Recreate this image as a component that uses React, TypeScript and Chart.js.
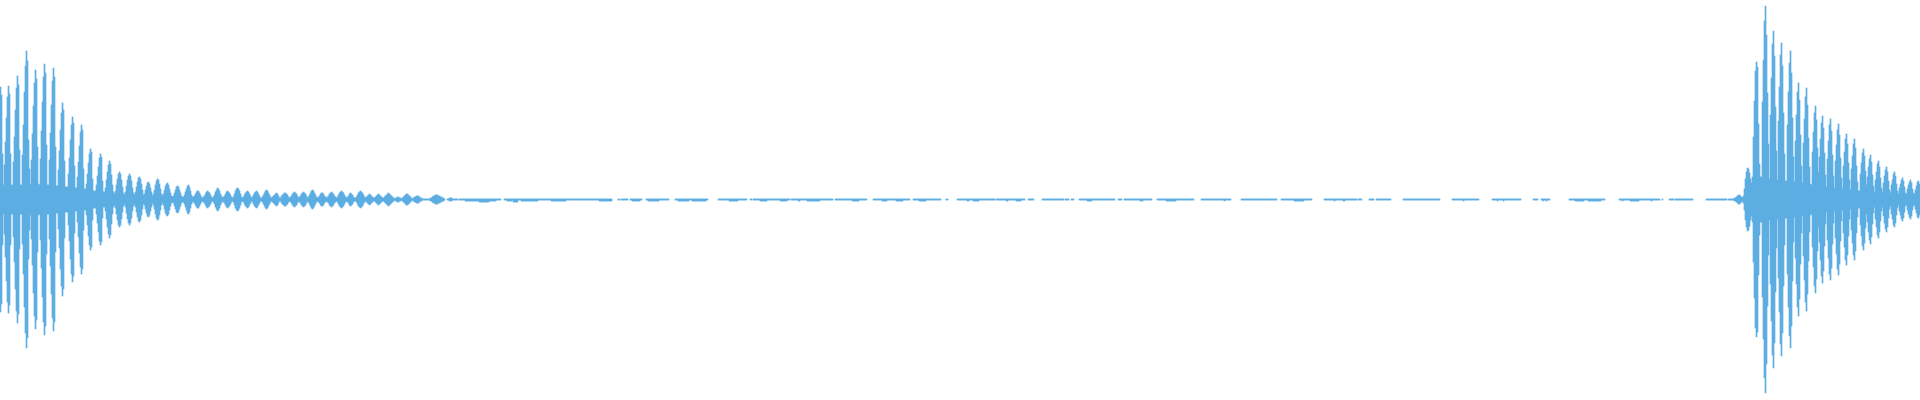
import React, { useEffect, useRef } from "react";
import { Chart, registerables } from "chart.js";

Chart.register(...registerables);

// Waveform sampled per pixel column; amplitudes in pixels above/below the centre line.
const columnCount = 1920;

// First hit (columns 0..459), decaying beats
const decayAmplitude: (number | null)[] = [
  112, 104, 45, 14, 34,
  57, 81, 102, 113, 105, 45, 14, 14,
  37, 62, 89, 111, 123, 114, 49, 14, 14,
  44, 74, 107, 133, 148, 138, 59, 30, 15,
  39, 65, 93, 116, 129, 120, 52, 15, 14,
  40, 68, 97, 122, 135, 126, 54, 14, 14,
  39, 66, 94, 118, 131, 122, 52, 13, 13,
  29, 48, 69, 86, 96, 89, 38, 12, 12, 12,
  25, 41, 59, 74, 82, 76, 33, 11, 11,
  22, 37, 53, 67, 74, 69, 30, 10, 10,
  15, 25, 36, 45, 50, 47, 20, 8, 8, 8,
  14, 23, 32, 41, 45, 42, 18, 7, 7,
  11, 19, 27, 34, 38, 35, 24, 14, 7, 5,
  8, 14, 20, 25, 27, 25, 19, 12, 6, 4,
  7, 13, 19, 23, 25, 23, 18, 11, 6, 4,
  7, 12, 17, 21, 22, 20, 15, 9, 4,
  5, 9, 13, 16, 17, 15, 11, 7, 3,
  5, 9, 14, 18, 20, 19, 15, 10, 5, 3,
  5, 9, 13, 15, 16, 14, 10, 6, 3, 2,
  3, 6, 9, 12, 13, 12, 9, 6, 3, 2,
  2, 4, 7, 10, 13, 14, 12, 8, 4, 2,
  2, 3, 5, 7, 8, 8, 6, 4, 2, 1,
  2, 3, 5, 7, 8, 7, 6, 4, 2, 1,
  2, 4, 7, 9, 11, 10, 8, 5, 3, 1,
  2, 3, 5, 7, 8, 7, 6, 4, 2, 1,
  2, 5, 8, 10, 11, 10, 8, 5, 2, 1,
  2, 4, 6, 7, 8, 7, 5, 3, 1,
  2, 4, 6, 7, 8, 7, 5, 3, 1, 1,
  2, 4, 6, 8, 9, 8, 6, 4, 2, 1,
  2, 3, 4, 5, 6, 5, 3, 1,
  1, 3, 4, 5, 6, 6, 5, 4, 2, 1,
  2, 3, 5, 6, 7, 6, 5, 3, 1,
  2, 3, 5, 6, 7, 6, 5, 3, 1,
  2, 4, 6, 8, 9, 8, 6, 4, 2, 1,
  2, 3, 5, 6, 6, 5, 3, 2, 1,
  2, 3, 5, 6, 7, 6, 5, 3, 2, 1,
  2, 4, 6, 7, 8, 7, 6, 4, 2, 1,
  2, 3, 5, 6, 5, 4, 2, 1,
  1, 2, 4, 6, 7, 8, 7, 6, 4, 2, 1,
  2, 3, 4, 5, 4, 3, 2, 1,
  1, 2, 3, 4, 5, 4, 3, 2, 1,
  1, 2, 3, 4, 5, 6, 5, 4, 3, 2, 1,
  0, 1, 1, 2, 2, 1, 1, 0,
  1, 2, 3, 4, 5, 5, 4, 3, 2, 1, 0,
  1, 2, 2, 3, 3, 3, 2, 1, 1, 0,
  0, 0, 0, 0, 0, 0,
  0, 1, 1, 2, 3, 3, 4, 4, 4, 3, 3, 2, 2, 1, 1, 0,
  null, null,
  0, 0, 1, 1, 1, 0, 0, 0, 0, 0, 0,
  null,
  0,
];

// Quiet stretch: column ranges where a faint trace is visible
const quietDashes: [number, number][] = [
  [460, 500], [504, 611], [618, 619], [621, 627], [630, 641], [646, 668],
  [675, 707], [718, 746], [750, 751], [753, 789], [791, 832], [835, 866],
  [873, 909], [913, 940], [946, 947], [957, 994], [996, 1024], [1028, 1033],
  [1042, 1063], [1065, 1068], [1071, 1073], [1079, 1114], [1118, 1121],
  [1124, 1151], [1157, 1193], [1201, 1230], [1241, 1276], [1281, 1311],
  [1324, 1356], [1358, 1361], [1369, 1373], [1376, 1390], [1403, 1439],
  [1452, 1478], [1492, 1520], [1533, 1537], [1541, 1549], [1569, 1604],
  [1619, 1659], [1662, 1662], [1669, 1673], [1675, 1692], [1706, 1726],
  [1728, 1733],
];

// Slightly louder spots inside the quiet stretch (downward extent in px)
const quietBumps: [number, number, number][] = [
  [465, 469, 1], [470, 478, 1], [479, 488, 2], [489, 495, 1], [507, 511, 1],
  [513, 517, 2], [521, 537, 1], [551, 565, 1], [599, 611, 1], [632, 639, 1],
  [648, 658, 1], [678, 688, 1], [692, 705, 1], [729, 737, 1], [760, 766, 1],
  [780, 786, 1], [798, 799, 1], [807, 819, 1], [852, 858, 1], [882, 886, 1],
  [896, 902, 1], [919, 925, 1], [967, 968, 1], [973, 978, 1], [1006, 1007, 1],
  [1016, 1020, 1], [1087, 1091, 1], [1140, 1142, 1], [1166, 1175, 1],
  [1224, 1224, 1], [1294, 1303, 1], [1334, 1334, 1], [1343, 1344, 1],
  [1463, 1463, 1], [1497, 1497, 1], [1503, 1503, 1], [1543, 1543, 1],
  [1546, 1546, 1], [1575, 1583, 1], [1588, 1600, 1], [1622, 1622, 1],
  [1630, 1638, 1], [1651, 1651, 1],
];

// Second hit (columns 1734..1919)
const secondHitStart = 1734;
const secondHitAmplitude: number[] = [
  1, 1, 2, 3, 4, 4, 3, 2, 1, 3,
  10, 20, 27, 31, 30, 26, 20, 16, 22,
  62, 98, 128, 137, 132, 75, 35, 22, 22,
  97, 139, 178, 193, 164, 106, 55, 20,
  84, 121, 155, 168, 143, 92, 48, 19,
  78, 112, 144, 156, 133, 86, 45, 18, 18,
  74, 107, 136, 148, 126, 81, 42, 17,
  58, 84, 107, 116, 99, 64, 33, 16,
  56, 80, 102, 111, 94, 61, 32, 15, 14,
  47, 67, 86, 93, 79, 51, 27,
  42, 60, 76, 83, 71, 46, 24, 12,
  40, 58, 74, 80, 68, 44, 23, 11,
  38, 54, 69, 75, 64, 41, 21, 10,
  33, 47, 60, 65, 55, 36, 19, 9,
  30, 43, 55, 60, 51, 33, 17, 8, 8,
  25, 36, 46, 50, 43, 28, 14,
  22, 32, 40, 44, 37, 24, 13, 7,
  19, 27, 35, 38, 32, 21, 11, 7,
  16, 23, 29, 32, 27, 18, 9, 6,
  14, 19, 25, 27, 23, 15, 8, 5,
  11, 15, 19, 21, 18, 12, 6, 5,
  10, 14, 17, 19, 16, 10, 6, 5,
  9, 13, 17, 18, 15,
];

function buildColumns() {
  const top: (number | null)[] = new Array(columnCount).fill(null);
  const bottom: (number | null)[] = new Array(columnCount).fill(null);
  decayAmplitude.forEach((a, i) => {
    if (a !== null && i < columnCount) {
      top[i] = a + 0.5;
      bottom[i] = -(a + 0.5);
    }
  });
  quietDashes.forEach(([s, e]) => {
    for (let i = s; i <= e; i++) {
      top[i] = 0.5;
      bottom[i] = -0.5;
    }
  });
  quietBumps.forEach(([s, e, a]) => {
    for (let i = s; i <= e; i++) {
      if (top[i] === null) top[i] = 0.5;
      bottom[i] = -(a + 0.5);
    }
  });
  secondHitAmplitude.forEach((a, k) => {
    const i = secondHitStart + k;
    if (i < columnCount) {
      top[i] = a + 0.5;
      bottom[i] = -(a + 0.5);
    }
  });
  return top.map((t, i) => (t === null ? null : [bottom[i] as number, t]));
}

export default function App() {
  const ref = useRef<HTMLCanvasElement | null>(null);
  useEffect(() => {
    if (!ref.current) return;
    const data = buildColumns();
    const labels = data.map((_, i) => String(i));
    const chart = new Chart(ref.current, {
      type: "bar",
      data: {
        labels,
        datasets: [
          {
            data: data as any,
            backgroundColor: "#5dade2",
            borderWidth: 0,
            barPercentage: 1,
            categoryPercentage: 1,
          },
        ],
      },
      options: {
        animation: false,
        responsive: false,
        devicePixelRatio: 1,
        layout: { padding: 0 },
        plugins: { legend: { display: false }, tooltip: { enabled: false } },
        scales: {
          x: { display: false },
          y: { display: false, min: -200.5, max: 199.5 },
        },
      },
    });
    return () => chart.destroy();
  }, []);
  return (
    <div style={{ position: "absolute", left: 0, top: 0, width: 1920, height: 400, background: "#fff" }}>
      <canvas ref={ref} width={1920} height={400} style={{ display: "block", width: 1920, height: 400 }} />
    </div>
  );
}
